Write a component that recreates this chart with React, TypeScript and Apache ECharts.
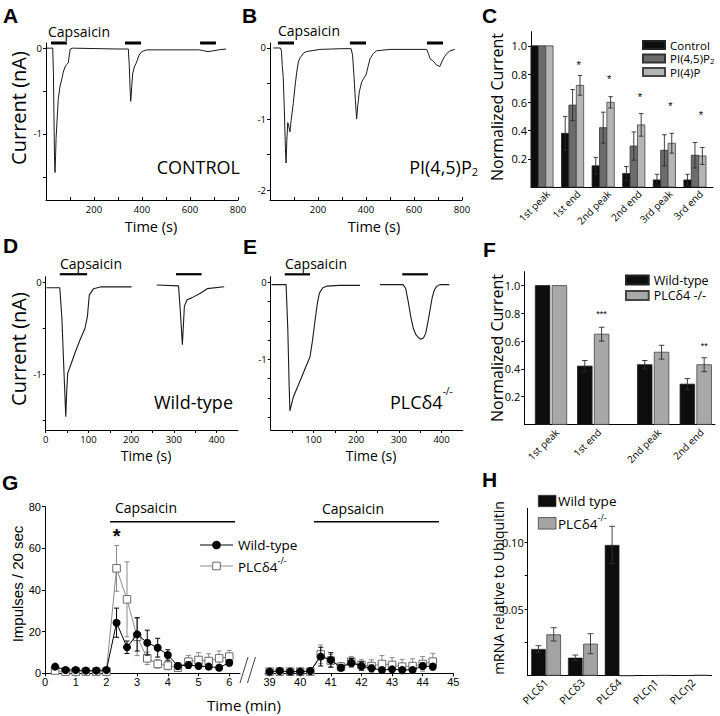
import React, { useEffect, useRef } from "react";
import * as echarts from "echarts";

const FONT = '"Open Sans", "Noto Sans", sans-serif';
const ARIAL = '"Liberation Sans", Arial, sans-serif';

// ---------- Panel A (CONTROL) : time (s), current (nA) ----------
const traceA: number[][] = [
  [3, 0], [28, 0], [31, -0.3], [35, -1.2], [37.5, -1.45], [40, -1.25], [42, -1.05], [46, -0.85], [51, -0.6],
  [58, -0.45], [65, -0.37], [72, -0.28], [79, -0.22], [86, -0.19], [93, -0.17], [97, -0.08], [101, -0.01],
  [110, 0], [200, -0.005], [300, -0.01], [343, -0.01], [347, -0.2], [350, -0.45], [353, -0.62], [356, -0.5],
  [361, -0.3], [368, -0.22], [378, -0.16], [388, -0.08], [399, -0.04], [420, -0.02], [500, -0.02], [600, -0.02],
  [640, -0.02], [655, -0.03], [675, -0.04], [700, -0.03], [720, -0.02], [750, -0.01],
];
const stimA: number[][] = [[21, 87], [329, 396], [642, 708]];
const stimLevelA = 0.06;

// ---------- Panel B (PI(4,5)P2) ----------
const traceB: number[][] = [
  [14, 0], [44, 0], [48, -0.05], [51, -0.25], [55, -0.4], [60, -0.9], [64, -1.4], [67, -1.62], [70, -1.3],
  [74, -1.05], [78, -1.1], [83, -1.18], [88, -1.02], [97, -0.78], [104, -0.55], [111, -0.35], [118, -0.2],
  [125, -0.14], [140, -0.07], [153, -0.05], [208, -0.02], [300, -0.01], [338, -0.01], [344, -0.1], [350, -0.4],
  [356, -0.75], [361, -1.0], [366, -0.8], [372, -0.62], [382, -0.48], [392, -0.42], [400, -0.38], [408, -0.27],
  [417, -0.15], [430, -0.08], [444, -0.04], [500, -0.02], [653, -0.02], [660, -0.08], [667, -0.15], [681, -0.19],
  [694, -0.24], [708, -0.26], [719, -0.17], [728, -0.12], [736, -0.08], [750, -0.04], [770, -0.02],
];
const stimB: number[][] = [[33, 100], [333, 400], [654, 721]];
const stimLevelB = 0.07;

// ---------- Panel C ----------
const cCategories = ["1st peak", "1st end", "2nd peak", "2nd end", "3rd peak", "3rd end"];
const cPositions = [0, 1, 2, 3, 4, 5];
const cControl = [1, 0.38, 0.15, 0.095, 0.05, 0.05];
const cControlErr = [0, 0.12, 0.06, 0.05, 0.04, 0.04];
const cPI45 = [1, 0.58, 0.42, 0.29, 0.26, 0.225];
const cPI45Err = [0, 0.11, 0.11, 0.1, 0.11, 0.09];
const cPI4 = [1, 0.72, 0.6, 0.44, 0.31, 0.22];
const cPI4Err = [0, 0.07, 0.04, 0.08, 0.07, 0.06];
const cStars = ["", "*", "*", "*", "*", "*"];
const cStarY = [0, 0.864, 0.764, 0.636, 0.571, 0.507];

// ---------- Panel D (Wild-type) ----------
const traceD1: number[][] = [
  [2, -0.06], [33, -0.06], [38, -0.4], [43, -1.0], [47, -1.46], [49, -1.2], [51.5, -0.99], [60, -0.88],
  [70, -0.75], [80, -0.63], [92, -0.5], [97.7, -0.37], [102, -0.14], [112, -0.07], [130, -0.05], [201, -0.05],
];
const traceD2: number[][] = [
  [260, -0.03], [311, -0.04], [315, -0.3], [320, -0.68], [324.7, -0.26], [331, -0.19], [342, -0.17],
  [362, -0.12], [378, -0.07], [418, -0.05],
];
const stimD: number[][] = [[33, 97], [305, 365]];
const stimLevelD = 0.087;

// ---------- Panel E (PLCδ4 -/-) ----------
const traceE1: number[][] = [
  [2, -0.03], [36, -0.03], [40, -0.6], [43, -1.3], [45, -1.67], [48, -1.6], [53, -1.49], [62, -1.37],
  [72.6, -1.23], [82, -1.1], [92, -0.97], [98, -0.75], [104, -0.49], [109, -0.28], [114, -0.14], [122, -0.07],
  [131, -0.05], [160, -0.04], [209, -0.04],
];
const traceE2: number[][] = [
  [256, -0.03], [310, -0.03], [316, -0.08], [322, -0.25], [328, -0.45], [334, -0.6], [340, -0.68],
  [346, -0.72], [352, -0.74], [358, -0.72], [363, -0.66], [368, -0.52], [373, -0.36], [378, -0.2],
  [383, -0.1], [389, -0.05], [396, -0.03], [418, -0.03],
];
const stimE: number[][] = [[33, 92], [308, 368]];
const stimLevelE = 0.104;

// ---------- Panel F ----------
const fCategories = ["1st peak", "1st end", "2nd peak", "2nd end"];
const fPositions = [0, 1, 2.42, 3.43];
const fWT = [1, 0.42, 0.43, 0.29];
const fWTErr = [0, 0.04, 0.03, 0.04];
const fKO = [1, 0.65, 0.52, 0.43];
const fKOErr = [0, 0.05, 0.05, 0.05];
const fStars = ["", "***", "", "**"];
const fStarY = [0, 0.795, 0, 0.565];

// ---------- Panel G : time (min), impulses / 20 s ----------
const gTimesL = [0.33, 0.67, 1.0, 1.33, 1.67, 2.0, 2.33, 2.67, 3.0, 3.33, 3.67, 4.0, 4.33, 4.67, 5.0, 5.33, 5.67, 6.0];
const gWtL = [3.2, 1.6, 1.6, 1.3, 1.3, 1.6, 24.3, 12.5, 18.7, 14.7, 12.3, 8.8, 3.5, 4.0, 3.5, 3.2, 2.7, 5.1];
const gWtErrL = [1, 0.8, 0.8, 0.6, 0.6, 0.8, 7, 3, 8, 6, 4.5, 2.5, 1.5, 1.5, 1.2, 1.2, 1.2, 1.5];
const gKoL = [1.3, 0.8, 0.8, 0.8, 0.8, 0.8, 50.4, 35.5, 17.5, 7.2, 4.5, 3.7, 2.7, 5.6, 6.4, 5.9, 7.2, 8.0];
const gKoErrL = [0.5, 0.5, 0.5, 0.5, 0.5, 0.5, 11, 18, 9, 3, 2, 2, 1.5, 3, 3.5, 3.5, 3.5, 3];
const gTimesR = [39.0, 39.33, 39.67, 40.0, 40.33, 40.67, 41.0, 41.33, 41.67, 42.0, 42.33, 42.67, 43.0, 43.33, 43.67, 44.0, 44.33];
const gWtR = [0.8, 1.1, 0.8, 0.8, 1.1, 8.0, 6.4, 2.7, 5.1, 3.5, 2.4, 1.6, 1.9, 1.6, 1.6, 3.5, 3.2];
const gWtErrR = [0.5, 0.5, 0.5, 0.5, 0.5, 4.5, 3.5, 1.5, 2, 2, 1.5, 1, 1, 1, 1, 1.5, 1.5];
const gKoR = [0.8, 0.8, 0.8, 0.8, 0.8, 9.1, 6.1, 3.2, 5.6, 4.0, 3.5, 4.5, 4.0, 3.2, 3.5, 4.5, 5.6];
const gKoErrR = [0.4, 0.4, 0.4, 0.4, 0.4, 4.5, 3, 2, 2.5, 2.5, 3, 4, 3.5, 3.5, 3.5, 3.5, 4];
const gStimL: number[][] = [[2.12, 6.19]];
const gStimR: number[][] = [[40.45, 44.53]];
const gStimLevel = 72.8;
const gStar: number[][] = [[2.33, 68]];

// ---------- Panel H ----------
const hCategories = ["PLCδ1", "PLCδ3", "PLCδ4", "PLCη1", "PLCη2"];
const hWT = [0.02, 0.0135, 0.098, 0.0003, 0.0003];
const hWTErr = [0.0025, 0.002, 0.014, 0, 0];
const hKO = [0.031, 0.024, 0, 0.0005, 0.0006];
const hKOErr = [0.005, 0.0075, 0, 0, 0];

// ---------- helpers ----------
function barRender(offset: number, width: number, fill: string, stroke: string) {
  return (params: any, api: any) => {
    const x = api.value(0), v = api.value(1);
    const top = api.coord([x, v]);
    const base = api.coord([x, 0]);
    return {
      type: "rect",
      shape: { x: top[0] + offset - width / 2, y: top[1], width, height: base[1] - top[1] },
      style: { fill, stroke, lineWidth: 0.8 },
    };
  };
}
function errRender(offset: number, cap: number, color: string, lw = 1) {
  return (params: any, api: any) => {
    const x = api.value(0), v = api.value(1), e = api.value(2);
    if (!e) return { type: "group", children: [] };
    const hi = api.coord([x, v + e]);
    const lo = api.coord([x, v - e]);
    const cx = hi[0] + offset;
    const st = { stroke: color, lineWidth: lw };
    return {
      type: "group",
      children: [
        { type: "line", shape: { x1: cx, y1: hi[1], x2: cx, y2: lo[1] }, style: st },
        { type: "line", shape: { x1: cx - cap, y1: hi[1], x2: cx + cap, y2: hi[1] }, style: st },
        { type: "line", shape: { x1: cx - cap, y1: lo[1], x2: cx + cap, y2: lo[1] }, style: st },
      ],
    };
  };
}
function textRender(texts: string[], dx: number, dy: number, rotation: number, font: string, align: string, va: string) {
  return (params: any, api: any) => {
    const p = api.coord([api.value(0), api.value(1)]);
    return {
      type: "text",
      x: p[0] + dx,
      y: p[1] + dy,
      rotation,
      style: { text: texts[params.dataIndex], font, fill: "#000", align, verticalAlign: va },
    };
  };
}
function stimRender(lw: number) {
  return (params: any, api: any) => {
    const a = api.coord([api.value(0), api.value(2)]);
    const b = api.coord([api.value(1), api.value(2)]);
    return { type: "line", shape: { x1: a[0], y1: a[1], x2: b[0], y2: b[1] }, style: { stroke: "#000", lineWidth: lw } };
  };
}
function vAxis(gridIndex: number, min: number, max: number, o: any = {}) {
  return {
    type: "value",
    gridIndex,
    min,
    max,
    show: o.show !== false,
    axisLine: { show: true, onZero: false, lineStyle: { color: "#000", width: 1 } },
    axisTick: {
      show: !!o.ticks,
      inside: !!o.inside,
      length: o.tickLen ?? 3,
      customValues: o.ticks,
      lineStyle: { color: "#000", width: 1 },
    },
    axisLabel: {
      show: !!o.labels,
      customValues: o.labels,
      fontSize: o.fs ?? 9.5,
      fontFamily: o.family ?? FONT,
      color: "#000",
      margin: o.margin ?? 4,
      formatter: o.fmt,
    },
    splitLine: { show: false },
  };
}
function txt(text: string, x: number, y: number, size: number, o: any = {}) {
  return {
    type: "text",
    x,
    y,
    rotation: o.rot || 0,
    z: 100,
    style: {
      text,
      fill: "#000",
      fontSize: size,
      fontFamily: o.family || FONT,
      fontWeight: o.weight || "normal",
      align: o.align || "left",
      verticalAlign: o.va || "middle",
      rich: o.rich,
    },
  };
}
const stimSeries = (data: number[][], level: number, xi: number, lw: number) => ({
  type: "custom",
  xAxisIndex: xi,
  yAxisIndex: xi,
  renderItem: stimRender(lw),
  encode: { x: [0, 1], y: 2 },
  data: data.map((d) => [d[0], d[1], level]),
  z: 5,
});
const traceSeries = (data: number[][], xi: number, width = 1) => ({
  type: "line",
  xAxisIndex: xi,
  yAxisIndex: xi,
  data,
  symbol: "none",
  showSymbol: false,
  lineStyle: { color: "#1a1a1a", width },
  silent: true,
});

function buildOption(): any {
  const grids = [
    { left: 46, top: 43, width: 192, height: 157 }, // A
    { left: 270, top: 43, width: 192, height: 157 }, // B
    { left: 531, top: 31.7, width: 182, height: 155.3 }, // C
    { left: 45.7, top: 276.7, width: 192.2, height: 153.3 }, // D
    { left: 270.7, top: 276.7, width: 192.2, height: 153.3 }, // E
    { left: 524.3, top: 271.7, width: 190.7, height: 152.7 }, // F
    { left: 45, top: 506.7, width: 195, height: 166.6 }, // G left
    { left: 265, top: 506.7, width: 188.3, height: 166.6 }, // G right
    { left: 527.7, top: 508.3, width: 184, height: 167.4 }, // H
  ].map((g) => ({ ...g, containLabel: false, outerBoundsMode: "none", show: false }));

  const hundreds = [100, 200, 300, 400, 500, 600, 700, 800];
  const xAxis = [
    vAxis(0, 0, 800, { ticks: hundreds, inside: true, labels: [200, 400, 600, 800] }),
    vAxis(1, 0, 800, { ticks: hundreds, inside: true, labels: [200, 400, 600, 800] }),
    vAxis(2, -0.36, 5.59, {}),
    vAxis(3, 0, 450, { ticks: [0, 50, 100, 150, 200, 250, 300, 350, 400], labels: [0, 100, 200, 300, 400] }),
    vAxis(4, 0, 450, { ticks: [50, 100, 150, 200, 250, 300, 350, 400], labels: [100, 200, 300, 400] }),
    vAxis(5, -0.633, 3.886, {}),
    vAxis(6, 0, 6.35, { ticks: [0, 1, 2, 3, 4, 5, 6], labels: [0, 1, 2, 3, 4, 5, 6], fs: 11, family: ARIAL, margin: 3 }),
    vAxis(7, 38.85, 45, { ticks: [39, 40, 41, 42, 43, 44, 45], labels: [39, 40, 41, 42, 43, 44, 45], fs: 11, family: ARIAL, margin: 3 }),
    {
      type: "category",
      gridIndex: 8,
      data: hCategories,
      boundaryGap: true,
      axisLine: { onZero: false, lineStyle: { color: "#000", width: 1 } },
      axisTick: { show: false },
      axisLabel: { rotate: 45, interval: 0, fontSize: 10.5, fontFamily: FONT, color: "#000", margin: 5 },
      splitLine: { show: false },
    },
  ];
  const f1 = (v: number) => v.toFixed(1);
  const yAxis = [
    vAxis(0, -1.77, 0.06, { ticks: [0, -0.5, -1, -1.5], labels: [0, -1] }),
    vAxis(1, -2.14, 0.07, { ticks: [0, -0.5, -1, -1.5, -2], labels: [0, -1, -2] }),
    vAxis(2, 0, 1.1, { ticks: [0.2, 0.4, 0.6, 0.8, 1.0], labels: [0.2, 0.4, 0.6, 0.8, 1.0], fs: 11, fmt: f1 }),
    vAxis(3, -1.605, 0.06, { ticks: [0, -0.5, -1, -1.5], labels: [0, -1] }),
    vAxis(4, -1.918, 0.073, { ticks: [0, -0.25, -0.5, -0.75, -1, -1.25, -1.5, -1.75], labels: [0, -1] }),
    vAxis(5, 0, 1.1, { ticks: [0.2, 0.4, 0.6, 0.8, 1.0], labels: [0.2, 0.4, 0.6, 0.8, 1.0], fs: 11, fmt: f1 }),
    vAxis(6, 0, 80, { ticks: [0, 20, 40, 60, 80], labels: [0, 20, 40, 60, 80], fs: 11, family: ARIAL, margin: 4 }),
    vAxis(7, 0, 80, { show: false }),
    vAxis(8, 0, 0.1255, {
      ticks: [0.025, 0.05, 0.075, 0.1],
      labels: [0.05, 0.1],
      fs: 11,
      fmt: (v: number) => v.toFixed(2),
    }),
  ];

  const cColors = [
    { name: "Control", fill: "#0d0d0d", stroke: "#222", data: cControl, err: cControlErr, off: -7.4 },
    { name: "PI(4,5)P2", fill: "#6c6c6c", stroke: "#333", data: cPI45, err: cPI45Err, off: 0 },
    { name: "PI(4)P", fill: "#b5b5b5", stroke: "#444", data: cPI4, err: cPI4Err, off: 7.4 },
  ];
  const fColors = [
    { name: "Wild-type", fill: "#0d0d0d", stroke: "#222", data: fWT, err: fWTErr, off: -8.4 },
    { name: "PLCδ4 -/-", fill: "#a8a8a8", stroke: "#444", data: fKO, err: fKOErr, off: 8.4 },
  ];

  const series: any[] = [
    traceSeries(traceA, 0),
    stimSeries(stimA, stimLevelA, 0, 3),
    traceSeries(traceB, 1),
    stimSeries(stimB, stimLevelB, 1, 3),
    traceSeries(traceD1, 3, 1.1),
    traceSeries(traceD2, 3, 1.1),
    stimSeries(stimD, stimLevelD, 3, 2.2),
    traceSeries(traceE1, 4, 1.1),
    traceSeries(traceE2, 4, 1.1),
    stimSeries(stimE, stimLevelE, 4, 2.2),
  ];

  // Panel C bars
  cColors.forEach((c) => {
    series.push({
      type: "custom",
      name: c.name,
      xAxisIndex: 2,
      yAxisIndex: 2,
      renderItem: barRender(c.off, 7.4, c.fill, c.stroke),
      itemStyle: { color: c.fill, borderColor: c.stroke, borderWidth: 0.8 },
      data: cPositions.map((p, i) => [p, c.data[i], c.err[i]]),
      z: 2,
    });
  });
  cColors.forEach((c) => {
    series.push({
      type: "custom",
      xAxisIndex: 2,
      yAxisIndex: 2,
      renderItem: errRender(c.off, 2.2, "#2a2a2a", 0.9),
      data: cPositions.map((p, i) => [p, c.data[i], c.err[i]]),
      z: 3,
    });
  });
  series.push({
    type: "custom",
    xAxisIndex: 2,
    yAxisIndex: 2,
    renderItem: textRender(cCategories, 6, 5, Math.PI / 4, `10px ${FONT}`, "right", "middle"),
    data: cPositions.map((p) => [p, 0]),
    z: 4,
  });
  series.push({
    type: "custom",
    xAxisIndex: 2,
    yAxisIndex: 2,
    renderItem: textRender(cStars, 6, 0, 0, `11px ${ARIAL}`, "center", "middle"),
    data: cPositions.map((p, i) => [p, cStarY[i]]),
    z: 4,
  });

  // Panel F bars
  fColors.forEach((c) => {
    series.push({
      type: "custom",
      name: c.name,
      xAxisIndex: 5,
      yAxisIndex: 5,
      renderItem: barRender(c.off, 14.6, c.fill, c.stroke),
      itemStyle: { color: c.fill, borderColor: c.stroke, borderWidth: 0.8 },
      data: fPositions.map((p, i) => [p, c.data[i], c.err[i]]),
      z: 2,
    });
  });
  fColors.forEach((c) => {
    series.push({
      type: "custom",
      xAxisIndex: 5,
      yAxisIndex: 5,
      renderItem: errRender(c.off, 2.8, "#2a2a2a", 0.9),
      data: fPositions.map((p, i) => [p, c.data[i], c.err[i]]),
      z: 3,
    });
  });
  series.push({
    type: "custom",
    xAxisIndex: 5,
    yAxisIndex: 5,
    renderItem: textRender(fCategories, 6, 6, Math.PI / 4, `10px ${FONT}`, "right", "middle"),
    data: fPositions.map((p) => [p, 0]),
    z: 4,
  });
  series.push({
    type: "custom",
    xAxisIndex: 5,
    yAxisIndex: 5,
    renderItem: textRender(fStars, 8.4, 0, 0, `9px ${ARIAL}`, "center", "middle"),
    data: fPositions.map((p, i) => [p, fStarY[i]]),
    z: 4,
  });

  // Panel G
  const gPanels = [
    { xi: 6, t: gTimesL, wt: gWtL, wte: gWtErrL, ko: gKoL, koe: gKoErrL },
    { xi: 7, t: gTimesR, wt: gWtR, wte: gWtErrR, ko: gKoR, koe: gKoErrR },
  ];
  gPanels.forEach((g) => {
    series.push({
      type: "custom",
      xAxisIndex: g.xi,
      yAxisIndex: g.xi,
      renderItem: errRender(0, 2.5, "#8a8a8a", 1),
      data: g.t.map((t, i) => [t, g.ko[i], g.koe[i]]),
      z: 2,
    });
    series.push({
      type: "line",
      name: "KO-G",
      xAxisIndex: g.xi,
      yAxisIndex: g.xi,
      data: g.t.map((t, i) => [t, g.ko[i]]),
      symbol: "rect",
      symbolSize: 7.5,
      showAllSymbol: true,
      itemStyle: { color: "#fff", borderColor: "#6a6a6a", borderWidth: 1 },
      lineStyle: { color: "#8a8a8a", width: 1 },
      z: 3,
    });
    series.push({
      type: "custom",
      xAxisIndex: g.xi,
      yAxisIndex: g.xi,
      renderItem: errRender(0, 2.5, "#000", 1),
      data: g.t.map((t, i) => [t, g.wt[i], g.wte[i]]),
      z: 4,
    });
    series.push({
      type: "line",
      name: "WT-G",
      xAxisIndex: g.xi,
      yAxisIndex: g.xi,
      data: g.t.map((t, i) => [t, g.wt[i]]),
      symbol: "circle",
      symbolSize: 8,
      showAllSymbol: true,
      itemStyle: { color: "#000" },
      lineStyle: { color: "#000", width: 1 },
      z: 5,
    });
  });
  series.push(stimSeries(gStimL, gStimLevel, 6, 1.6));
  series.push(stimSeries(gStimR, gStimLevel, 7, 1.6));
  series.push({
    type: "custom",
    xAxisIndex: 6,
    yAxisIndex: 6,
    renderItem: textRender(["*"], 0, 4, 0, `bold 20px ${ARIAL}`, "center", "middle"),
    data: gStar,
    z: 6,
  });

  // Panel H
  series.push({
    type: "bar",
    name: "Wild type",
    xAxisIndex: 8,
    yAxisIndex: 8,
    data: hWT,
    barWidth: 14.6,
    barGap: "4%",
    itemStyle: { color: "#0d0d0d", borderColor: "#222", borderWidth: 0.6 },
  });
  series.push({
    type: "bar",
    name: "PLCδ4",
    xAxisIndex: 8,
    yAxisIndex: 8,
    data: hKO,
    barWidth: 14.6,
    barGap: "4%",
    itemStyle: { color: "#a3a3a3", borderColor: "#444", borderWidth: 0.8 },
  });
  series.push({
    type: "custom",
    xAxisIndex: 8,
    yAxisIndex: 8,
    renderItem: errRender(-7.6, 3, "#333", 0.9),
    data: hWT.map((v, i) => [i, v, hWTErr[i]]),
    z: 4,
  });
  series.push({
    type: "custom",
    xAxisIndex: 8,
    yAxisIndex: 8,
    renderItem: errRender(7.6, 3, "#333", 0.9),
    data: hKO.map((v, i) => [i, v, hKOErr[i]]),
    z: 4,
  });

  const legend = [
    {
      left: 637,
      top: 34,
      orient: "vertical",
      itemWidth: 22,
      itemHeight: 8,
      itemGap: 1.5,
      icon: "rect",
      selectedMode: false,
      data: ["Control", "PI(4,5)P2", "PI(4)P"],
      formatter: (n: string) => (n === "PI(4,5)P2" ? "PI(4,5)P{s|2}" : n),
      textStyle: {
        fontSize: 11.5,
        lineHeight: 11.5,
        fontFamily: FONT,
        color: "#000",
        rich: { s: { fontSize: 8, fontFamily: FONT, lineHeight: 11.5, verticalAlign: "bottom" } },
      },
    },
    {
      left: 620,
      top: 268,
      orient: "vertical",
      itemWidth: 22.7,
      itemHeight: 9,
      itemGap: 1.5,
      icon: "rect",
      selectedMode: false,
      data: ["Wild-type", "PLCδ4 -/-"],
      textStyle: { fontSize: 12.5, lineHeight: 14, fontFamily: FONT, color: "#000" },
    },
  ];

  const supRich = (a: number, b: number, raise: number) => ({
    a: { fontSize: a, fontFamily: FONT },
    b: { fontSize: b, fontFamily: FONT, padding: [0, 0, raise * 2, 0] },
  });

  const graphic: any[] = [
    // panel letters
    txt("A", 3, 15, 21, { family: ARIAL, weight: "bold" }),
    txt("B", 242, 15, 21, { family: ARIAL, weight: "bold" }),
    txt("C", 482, 15, 21, { family: ARIAL, weight: "bold" }),
    txt("D", 3, 245, 21, { family: ARIAL, weight: "bold" }),
    txt("E", 243, 246, 21, { family: ARIAL, weight: "bold" }),
    txt("F", 483, 249, 21, { family: ARIAL, weight: "bold" }),
    txt("G", 2, 482, 21, { family: ARIAL, weight: "bold" }),
    txt("H", 482, 479, 21, { family: ARIAL, weight: "bold" }),
    // capsaicin labels
    txt("Capsaicin", 48, 31, 14),
    txt("Capsaicin", 278, 30, 14),
    txt("Capsaicin", 60, 263, 14),
    txt("Capsaicin", 285, 263, 14),
    txt("Capsaicin", 115, 507, 14),
    txt("Capsaicin", 322, 508, 14),
    // condition labels
    txt("CONTROL", 240, 167, 18, { align: "right" }),
    txt("{a|PI(4,5)P}{b|2}", 478, 167, 18, {
      align: "right",
      rich: { a: { fontSize: 18, fontFamily: FONT }, b: { fontSize: 11, fontFamily: FONT, padding: [8, 0, 0, 0] } },
    }),
    txt("Wild-type", 233, 402, 18, { align: "right" }),
    txt("{a|PLCδ4}{b|-/-}", 390, 402, 18, { rich: supRich(18, 10, 11) }),
    // axis titles
    txt("Current (nA)", 18, 108, 20, { rot: Math.PI / 2, align: "center" }),
    txt("Current (nA)", 18, 349, 20, { rot: Math.PI / 2, align: "center" }),
    txt("Time (s)", 151, 226, 14.5, { align: "center" }),
    txt("Time (s)", 374, 226, 14.5, { align: "center" }),
    txt("Time (s)", 146, 455, 14, { align: "center" }),
    txt("Time (s)", 371, 455, 14, { align: "center" }),
    txt("Normalized Current", 497, 107, 16, { rot: Math.PI / 2, align: "center" }),
    txt("Normalized Current", 497, 348, 16, { rot: Math.PI / 2, align: "center" }),
    txt("Impulses / 20 sec", 17, 584, 15, { rot: Math.PI / 2, align: "center", family: ARIAL }),
    txt("Time (min)", 244, 705, 15, { align: "center" }),
    txt("mRNA relative to Ubiquitin", 498, 588, 14, { rot: Math.PI / 2, align: "center" }),
    // G legend
    { type: "line", z: 100, shape: { x1: 200, y1: 545, x2: 233, y2: 545 }, style: { stroke: "#000", lineWidth: 1 } },
    { type: "circle", z: 101, shape: { cx: 216.5, cy: 545, r: 4.3 }, style: { fill: "#000" } },
    txt("Wild-type", 238, 545, 13.5),
    { type: "line", z: 100, shape: { x1: 200, y1: 566, x2: 233, y2: 566 }, style: { stroke: "#8a8a8a", lineWidth: 1 } },
    { type: "rect", z: 101, shape: { x: 212.7, y: 562.2, width: 7.6, height: 7.6 }, style: { fill: "#fff", stroke: "#6a6a6a", lineWidth: 1 } },
    txt("{a|PLCδ4}{b|-/-}", 238, 567, 13.5, { rich: supRich(13.5, 9, 6.5) }),
    // G axis break marks
    { type: "line", z: 100, shape: { x1: 240, y1: 683, x2: 248, y2: 657 }, style: { stroke: "#444", lineWidth: 1 } },
    { type: "line", z: 100, shape: { x1: 247.5, y1: 683, x2: 255.5, y2: 657 }, style: { stroke: "#444", lineWidth: 1 } },
    // H legend
    { type: "rect", z: 100, shape: { x: 538.3, y: 495.3, width: 17.7, height: 11.4 }, style: { fill: "#0d0d0d", stroke: "#222", lineWidth: 0.6 } },
    txt("Wild type", 558, 501, 13.5),
    { type: "rect", z: 100, shape: { x: 538.3, y: 517.5, width: 17.7, height: 11.6 }, style: { fill: "#a3a3a3", stroke: "#444", lineWidth: 0.8 } },
    txt("{a|PLCδ4}{b|-/-}", 558, 524, 13.5, { rich: supRich(13.5, 9, 7) }),
  ];

  return {
    animation: false,
    backgroundColor: "#fff",
    grid: grids,
    xAxis,
    yAxis,
    legend,
    series,
    graphic,
  };
}

export default function App() {
  const ref = useRef<HTMLDivElement>(null);
  useEffect(() => {
    if (!ref.current) return;
    const chart = echarts.init(ref.current, null, { renderer: "svg" });
    chart.setOption(buildOption());
    return () => chart.dispose();
  }, []);
  return (
    <div
      ref={ref}
      style={{ position: "fixed", left: 0, top: 0, width: 720, height: 716, background: "#fff" }}
    />
  );
}
